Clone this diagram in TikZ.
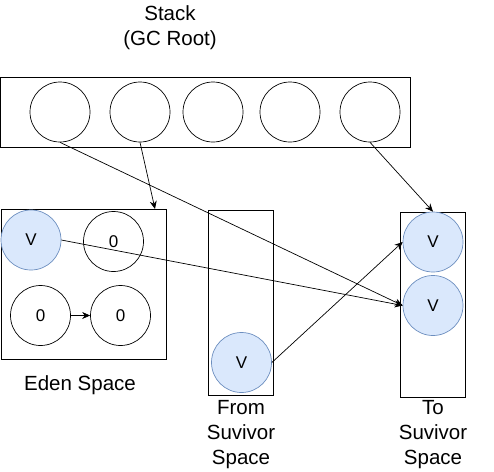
\documentclass[tikz,border=0pt]{standalone}
\usepackage{fontspec}
\setmainfont{Liberation Sans}
\usetikzlibrary{arrows.meta}
\definecolor{vfill}{HTML}{DAE8FC}
\definecolor{vline}{HTML}{6C8EBF}
\begin{document}
\begin{tikzpicture}[x=1pt,y=-1pt,
  box/.style={draw=black,line width=0.9pt,inner sep=0pt},
  ecirc/.style={circle,draw=black,line width=0.7pt,minimum size=60pt,inner sep=0pt,font=\fontsize{17}{20}\selectfont},
  vcirc/.style={circle,draw=vline,fill=vfill,line width=0.7pt,minimum size=60pt,inner sep=0pt,font=\fontsize{17}{20}\selectfont},
  lbl/.style={font=\fontsize{20.5}{25}\selectfont,align=center,inner sep=0pt},
  arr/.style={-{Stealth[length=8pt,width=7pt]},line width=0.7pt}]
\useasboundingbox (0,0) rectangle (494,471);
% stack
\node[lbl] (title) at (170,28) {Stack\\(GC Root)};
\draw[box] (0.5,77) rectangle (410,147);
\node[ecirc] (s1) at (60,112) {};
\node[ecirc] (s2) at (140,112) {};
\node[ecirc] (s3) at (213,112) {};
\node[ecirc] (s4) at (290,112) {};
\node[ecirc] (s5) at (370,112) {};
% eden
\draw[box] (1,209) rectangle (166,359);
\coordinate (edenTR) at (155,209);
\node[vcirc] (ev) at (31,240) {V};
\node[ecirc] (e1) at (113.5,241.5) {0};
\node[ecirc] (e2) at (40.5,315.5) {0};
\node[ecirc] (e3) at (120.5,315.5) {0};
\node[lbl] (edenl) at (80,385) {Eden Space};
% from
\draw[box] (208.5,210) rectangle (273,395);
\node[vcirc] (fv) at (241.5,362.5) {V};
\node[lbl] (froml) at (241,435) {From\\Suvivor\\Space};
% to
\draw[box] (400,212.5) rectangle (465,397);
\node[vcirc] (t1) at (433,242) {V};
\node[vcirc] (t2) at (433,305.5) {V};
\node[lbl] (tol) at (433,435) {To\\Suvivor\\Space};
% arrows
\draw[arr] (s1.south) -- (t2.west);
\draw[arr] (s2.south) -- (edenTR);
\draw[arr] (s5.south) -- (t1.north);
\draw[arr] (ev.east) -- (t2.west);
\draw[arr] (fv.east) -- (t1.west);
\draw[arr] (e2.east) -- (e3.west);
\end{tikzpicture}
\end{document}
